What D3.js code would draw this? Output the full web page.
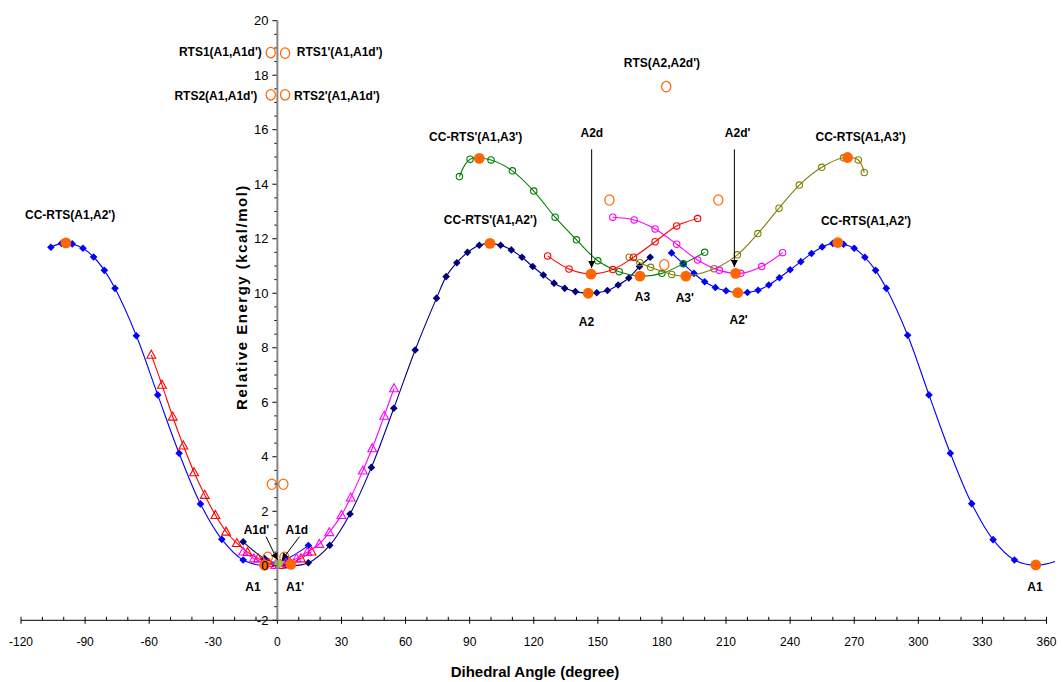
<!DOCTYPE html>
<html><head><meta charset="utf-8">
<script src="https://cdn.jsdelivr.net/npm/d3@7"></script>
<style>body{margin:0;background:#fff;} svg{display:block;font-family:"Liberation Sans",Arial,sans-serif;}</style>
</head><body><svg id="c" width="1063" height="682"></svg>
<script>
// ---------- data (dihedral angle in degrees, relative energy in kcal/mol) ----------
const xTicks = [-120,-90,-60,-30,0,30,60,90,120,150,180,210,240,270,300,330,360];
const yTicks = [-2,0,2,4,6,8,10,12,14,16,18,20];

const blueLeft = [[-106,11.69],[-101,11.83],[-96,11.81],[-91,11.65],[-86,11.33],[-81,10.84],[-76,10.18],[-66,8.44],[-56,6.27],[-46,4.13],[-36,2.27],[-26,0.97],[-16,0.21],[-6,0.02],[4,0.24],[14.5,0.74]];
const blueRight = [[184.5,11.48],[190,11.08],[195,10.73],[200,10.42],[205,10.21],[210,10.09],[215,10.02],[220,10.03],[225,10.11],[230,10.30],[235,10.57],[240,10.86],[245,11.16],[250,11.46],[255,11.70],[260,11.83],[265,11.80],[270,11.65],[275,11.32],[280,10.84],[285,10.18],[295,8.46],[305,6.27],[315,4.13],[325,2.28],[335,0.96],[345,0.21],[355,0.02],[364,0.16]];
const navySeries = [[-16,0.88],[-6,0.27],[4,0.02],[14.5,0.11],[24.5,0.75],[34,1.90],[44,3.61],[54.5,5.78],[64.5,7.92],[74.5,9.82],[79,10.61],[84,11.12],[89,11.50],[94.5,11.76],[99.5,11.83],[104.5,11.76],[109.5,11.59],[114.5,11.32],[119.5,10.98],[124.5,10.67],[129.5,10.37],[134.5,10.18],[139.5,10.06],[144.5,10.00],[149.5,10.02],[154.5,10.10],[159.5,10.30],[164.5,10.56],[169.5,10.98],[174.5,11.32]];
const redTriangles = [[-59,7.74],[-54,6.64],[-49,5.47],[-44,4.41],[-39,3.43],[-34,2.60],[-29,1.86],[-24,1.25],[-19,0.83],[-14,0.50],[-9,0.27],[-4,0.10],[1,0.03],[6,0.10],[11,0.27],[16,0.52]];
const magentaTriangles = [[-16,0.52],[-11,0.27],[-6,0.10],[-1,0.03],[4,0.10],[9,0.27],[14,0.50],[19.6,0.80],[24.3,1.23],[30,1.86],[34.3,2.50],[40,3.49],[44.4,4.31],[50,5.50],[54.6,6.51]];
const greenCircles = [[85.2,14.28],[90.2,14.92],[100,14.89],[110,14.49],[120,13.75],[130,12.79],[140,11.96],[150,11.19],[160,10.79],[170,10.63],[180,10.73],[190,11.08],[200,11.50]];
const oliveCircles = [[164.7,11.32],[169.7,11.12],[174.7,10.95],[184.6,10.69],[191,10.63],[204.4,10.90],[215.3,11.41],[224.9,12.19],[234.8,13.12],[244.3,13.97],[254.8,14.62],[265,14.97],[271.9,14.89],[274.7,14.43]];
const redCircles = [[126.5,11.37],[136.5,10.89],[146.5,10.71],[157,10.87],[166.7,11.32],[176.8,11.89],[186.9,12.47],[196.7,12.74]];
const magentaCircles = [[157,12.79],[167,12.69],[176.8,12.36],[186.9,11.80],[196.7,11.22],[206.9,10.84],[216.9,10.73],[226.7,10.98],[236.5,11.49]];
const stationaryPoints = [[-99,11.85],[-6,0.02],[6.3,0.05],[355,0.03],[99.5,11.83],[145.5,10.00],[215.5,10.02],[262.3,11.86],[169.7,10.63],[191.2,10.63],[146.8,10.70],[214.5,10.73],[94.5,14.95],[266.9,14.98]];
const dimerMinimum = [[0.5,0.08]];
const rtsPoints = [[-3.1,18.83],[3.6,18.81],[-3.1,17.28],[3.6,17.28],[-2.6,2.99],[2.8,2.99],[-4.5,0.31],[3.3,0.31],[182,17.58],[155.4,13.42],[206.4,13.42],[181.1,11.04]];

const labelTexts = ["CC-RTS(A1,A2')","RTS1(A1,A1d')","RTS1'(A1,A1d')","RTS2(A1,A1d')","RTS2'(A1,A1d')","RTS(A2,A2d')","CC-RTS'(A1,A3')","A2d","A2d'","CC-RTS(A1,A3')","CC-RTS'(A1,A2')","CC-RTS(A1,A2')","A3","A3'","A2","A2'","A1d'","A1d","A1","A1'","A1"];
const labelX = [-97,-7.3,9.1,-9.4,7.8,180,92.8,147.2,215.4,273.0,99.7,275.5,170.9,190.7,144.7,215.9,-9.8,9.1,-11.4,8.3,354.6];
const labelY = [12.87,18.87,18.87,17.24,17.24,18.45,15.75,15.88,15.89,15.75,12.69,12.67,9.88,9.82,8.96,9.02,1.31,1.31,-0.77,-0.77,-0.77];
const labelAnchor = ["middle","end","start","end","start","middle","middle","middle","middle","middle","middle","middle","middle","middle","middle","middle","middle","middle","middle","middle","middle"];
// arrows: [x1,y1,x2,y2] in data units
const arrows = [[147.1,15.28,147.1,10.93],[213.9,15.28,213.9,10.96],[-5.3,1.07,0,0.21],[10.3,1.07,2.1,0.21]];

// ---------- drawing ----------
const svg = d3.select("#c");
const x = d3.scaleLinear().domain([-120,360]).range([21,1046.5]);
const y = d3.scaleLinear().domain([-2,20]).range([620.3,20.7]);
const line = d3.line().x(d=>x(d[0])).y(d=>y(d[1])).curve(d3.curveCatmullRom.alpha(0.5));

const diamond = r => `M0,${-r}L${r},0L0,${r}L${-r},0Z`;
const tri = `M0,-4.6L4.4,3.4L-4.4,3.4Z`;

const series = [
  {data: blueLeft, color:"#0000FF", marker:"diamond"},
  {data: blueRight, color:"#0000FF", marker:"diamond"},
  {data: navySeries, color:"#000080", marker:"diamond"},
  {data: redTriangles, color:"#FF0000", marker:"tri"},
  {data: magentaTriangles, color:"#FF00FF", marker:"tri"},
  {data: greenCircles, color:"#008000", marker:"circle"},
  {data: oliveCircles, color:"#808000", marker:"circle"},
  {data: redCircles, color:"#FF0000", marker:"circle"},
  {data: magentaCircles, color:"#FF00FF", marker:"circle"}
];

const g = svg.append("g");
series.forEach(s=>{
  g.append("path").attr("d", line(s.data)).attr("fill","none").attr("stroke", s.color).attr("stroke-width",1.1);
  const pts = g.append("g").selectAll("path").data(s.data.filter(d=>d[0]<=360)).enter();
  if (s.marker==="diamond") {
    pts.append("path").attr("d", diamond(3.8)).attr("transform", d=>`translate(${x(d[0])},${y(d[1])})`).attr("fill", s.color);
  } else if (s.marker==="tri") {
    pts.append("path").attr("d", tri).attr("transform", d=>`translate(${x(d[0])},${y(d[1])})`).attr("fill","none").attr("stroke", s.color).attr("stroke-width",1.1);
  } else {
    pts.append("circle").attr("cx", d=>x(d[0])).attr("cy", d=>y(d[1])).attr("r",3.2).attr("fill","none").attr("stroke", s.color).attr("stroke-width",1.1);
  }
});

// open TS circles
g.selectAll(".rts").data(rtsPoints).enter().append("ellipse")
  .attr("cx", d=>x(d[0])).attr("cy", d=>y(d[1])).attr("rx",4.6).attr("ry",5.2)
  .attr("fill","none").attr("stroke","#FF6600").attr("stroke-width",1.2);
// stationary points
g.selectAll(".st").data(stationaryPoints).enter().append("circle")
  .attr("cx", d=>x(d[0])).attr("cy", d=>y(d[1])).attr("r",5.4).attr("fill","#FF6600");
g.selectAll(".dm").data(dimerMinimum).enter().append("circle")
  .attr("cx", d=>x(d[0])).attr("cy", d=>y(d[1])).attr("r",4.2).attr("fill","#99CC33");

// axes
const xAxisG = svg.append("g").attr("transform", `translate(0,${y(-2)})`);
xAxisG.append("line").attr("x1", x(-120)).attr("x2", x(360)).attr("stroke","#000").attr("stroke-width",1);
const minorX = d3.range(-120, 361, 10);
xAxisG.selectAll(".mx").data(minorX).enter().append("line")
  .attr("x1", d=>x(d)).attr("x2", d=>x(d)).attr("y1",-3.5).attr("y2", d=>xTicks.includes(d)?3.5:0)
  .attr("stroke","#000").attr("stroke-width",1);
xAxisG.selectAll(".xl").data(xTicks).enter().append("text")
  .attr("x", d=>x(d)).attr("y", 26).attr("text-anchor","middle").attr("font-size",12).attr("fill","#000")
  .text(d=>d);

const yAxisG = svg.append("g").attr("transform", `translate(${x(0)},0)`);
const minorY = d3.range(-2, 20.01, 0.5);
yAxisG.selectAll(".my").data(minorY).enter().append("line")
  .attr("x1", d=>yTicks.includes(d)?-5:-3).attr("x2", 0).attr("y1", d=>y(d)).attr("y2", d=>y(d))
  .attr("stroke","#000").attr("stroke-width",1);
yAxisG.append("line").attr("x1",0).attr("x2",0).attr("y1", y(-2)).attr("y2", y(20)).attr("stroke","#868686").attr("stroke-width",2);
yAxisG.selectAll(".yl").data(yTicks).enter().append("text")
  .attr("x",-9).attr("y", d=>y(d)).attr("dy","0.36em").attr("text-anchor","end").attr("font-size",13).attr("fill","#000")
  .text(d=>d);

// axis titles
svg.append("text").attr("x",535).attr("y",677).attr("text-anchor","middle").attr("font-size",15).attr("font-weight","bold").text("Dihedral Angle (degree)");
svg.append("text").attr("transform","translate(247,297) rotate(-90)").attr("text-anchor","middle").attr("font-size",15).attr("font-weight","bold").attr("letter-spacing","1.5px").text("Relative Energy (kcal/mol)");

// labels
const lab = svg.append("g");
labelTexts.forEach((t,i)=>{
  lab.append("text").attr("x", x(labelX[i])).attr("y", y(labelY[i])).attr("dy","0.36em")
    .attr("text-anchor", labelAnchor[i]).attr("font-size",12).attr("font-weight","bold").attr("fill","#000").text(t);
});
// arrows
svg.append("defs").append("marker").attr("id","ah").attr("viewBox","0 0 10 10").attr("refX",10).attr("refY",5)
  .attr("markerWidth",7).attr("markerHeight",7).attr("markerUnits","userSpaceOnUse").attr("orient","auto")
  .append("path").attr("d","M0,0L10,5L0,10Z").attr("fill","#000");
arrows.forEach(a=>{
  svg.append("line").attr("x1",x(a[0])).attr("y1",y(a[1])).attr("x2",x(a[2])).attr("y2",y(a[3]))
    .attr("stroke","#000").attr("stroke-width",1).attr("marker-end","url(#ah)");
});
</script></body></html>
